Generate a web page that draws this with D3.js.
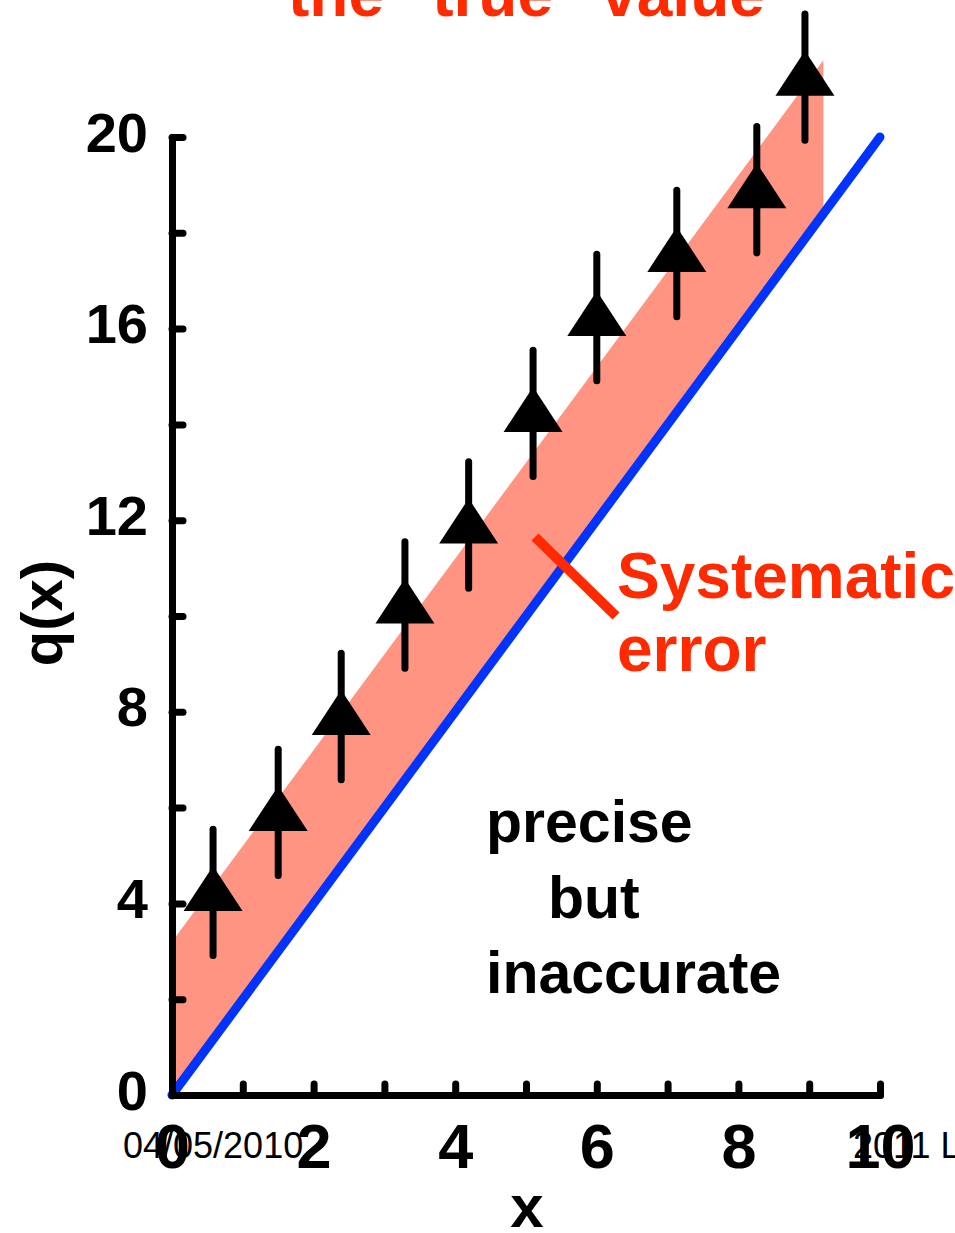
<!DOCTYPE html>
<html>
<head>
<meta charset="utf-8">
<script src="https://cdn.jsdelivr.net/npm/d3@7"></script>
<style>
  html, body { margin: 0; padding: 0; background: #fff; overflow: hidden; }
  svg { display: block; font-family: "Liberation Sans", Arial, sans-serif; }
</style>
</head>
<body>
<svg id="chart" width="955" height="1233"></svg>
<script>
// measured points (x, q) with symmetric error bars
const xVals = [0.58, 1.5, 2.39, 3.29, 4.19, 5.1, 6.0, 7.13, 8.26, 8.94];
const qVals = [4.23, 5.9, 7.9, 10.23, 11.9, 14.23, 16.23, 17.57, 18.9, 21.25];
const qErr = [1.32, 1.32, 1.32, 1.32, 1.32, 1.32, 1.32, 1.32, 1.32, 1.32];

// true value line q = 2x and the offset band
const trueX = [0, 10];
const trueQ = [0, 20];
const bandX = [0, 9.2];
const bandOffset = 3.2;

const xTicks = [0, 1, 2, 3, 4, 5, 6, 7, 8, 9, 10];
const yTicks = [0, 2, 4, 6, 8, 10, 12, 14, 16, 18, 20];

const svg = d3.select("#chart");
const x = d3.scaleLinear().domain([0, 10]).range([172, 880]);
const y = d3.scaleLinear().domain([0, 20]).range([1095, 137]);

// footer stamps (drawn first, the tick labels overlap them)
svg.append("text").attr("x", 123).attr("y", 1158)
  .style("font-size", "36px").text("04/05/2010");
svg.append("text").attr("x", 853).attr("y", 1158)
  .style("font-size", "36px").text("2011 Lecture");

// pink band between q=2x and q=2x+offset
const band = bandX.map(v => [v, 2 * v + bandOffset])
  .concat(bandX.slice().reverse().map(v => [v, 2 * v]));
svg.append("path")
  .attr("d", d3.line().x(d => x(d[0])).y(d => y(d[1]))(band) + "Z")
  .attr("fill", "#ff9482");

// blue true line
svg.append("path")
  .attr("d", d3.line().x((d, i) => x(trueX[i])).y((d, i) => y(trueQ[i]))(trueX))
  .attr("stroke", "#0033ff").attr("stroke-width", 9)
  .attr("stroke-linecap", "round").attr("fill", "none");

// error bars
const pts = xVals.map((v, i) => ({ x: v, q: qVals[i], e: qErr[i] }));
svg.selectAll("line.err").data(pts).enter().append("line")
  .attr("class", "err")
  .attr("x1", d => x(d.x)).attr("x2", d => x(d.x))
  .attr("y1", d => y(d.q + d.e)).attr("y2", d => y(d.q - d.e))
  .attr("stroke", "#000").attr("stroke-width", 7).attr("stroke-linecap", "round");

// triangle markers
svg.selectAll("path.tri").data(pts).enter().append("path")
  .attr("class", "tri")
  .attr("transform", d => `translate(${x(d.x)},${y(d.q)})`)
  .attr("d", "M0,-26.5L29.5,18.5L-29.5,18.5Z")
  .attr("fill", "#000");

// axes
const xAxis = svg.append("g").attr("transform", `translate(0,${y(0)})`)
  .call(d3.axisBottom(x).tickValues(xTicks).tickSizeInner(-11).tickSizeOuter(0)
    .tickFormat(d => d % 2 === 0 ? d : ""));
const yAxis = svg.append("g").attr("transform", `translate(${x(0)},0)`)
  .call(d3.axisLeft(y).tickValues(yTicks).tickSizeInner(-11).tickSizeOuter(0)
    .tickFormat(d => d % 4 === 0 ? d : ""));

[xAxis, yAxis].forEach(g => {
  g.selectAll("path.domain, line").attr("stroke", "#000")
    .attr("stroke-width", 7).attr("stroke-linecap", "round");
  g.selectAll("text").attr("fill", "#000")
    .style("font-family", "'Liberation Sans', Arial, sans-serif")
    .style("font-weight", "bold");
});
xAxis.selectAll("text").attr("y", 73).attr("dy", null).style("font-size", "63px");
yAxis.selectAll("text").attr("x", -24).attr("dy", null).attr("y", 14).style("font-size", "56px");

// axis titles
svg.append("text").attr("x", 527).attr("y", 1227).attr("text-anchor", "middle")
  .style("font-size", "60px").style("font-weight", "bold").text("x");
svg.append("text").attr("transform", "translate(62,613) rotate(-90)")
  .attr("text-anchor", "middle")
  .style("font-size", "58px").style("font-weight", "bold").text("q(x)");

// systematic error marker
svg.append("line").attr("x1", 535).attr("y1", 537).attr("x2", 616).attr("y2", 616)
  .attr("stroke", "#ff2a00").attr("stroke-width", 10);

const red = "#ff2a00";
svg.append("text").attr("x", 288).attr("y", 16).attr("fill", red)
  .style("font-size", "64px").style("font-weight", "bold").text('the "true" value');
svg.append("text").attr("x", 617).attr("y", 598).attr("fill", red)
  .style("font-size", "64px").style("font-weight", "bold").text("Systematic");
svg.append("text").attr("x", 617).attr("y", 671).attr("fill", red)
  .style("font-size", "64px").style("font-weight", "bold").text("error");

// annotation
const note = [["precise", 486, 842], ["but", 548, 918], ["inaccurate", 486, 993]];
note.forEach(n => {
  svg.append("text").attr("x", n[1]).attr("y", n[2])
    .style("font-size", "59px").style("font-weight", "bold").text(n[0]);
});
</script>
</body>
</html>
